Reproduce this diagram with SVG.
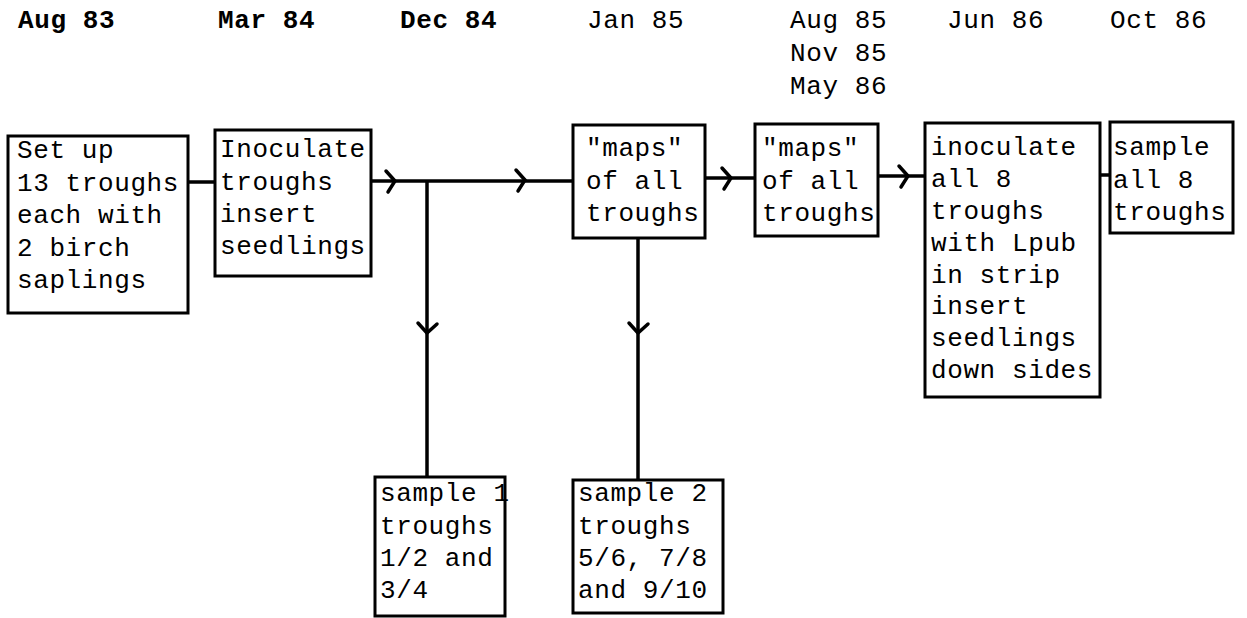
<svg xmlns="http://www.w3.org/2000/svg" width="1247" height="618" viewBox="0 0 1247 618">
<style>
text{font-family:"Liberation Mono","DejaVu Sans Mono",monospace;font-size:26px;letter-spacing:0.6px;fill:#000}
.b{font-weight:bold}
.box{fill:#fff;stroke:#000;stroke-width:3}
.ln{fill:none;stroke:#000;stroke-width:3.5}
.ch{fill:none;stroke:#000;stroke-width:3.5;stroke-linecap:round}
</style>
<rect width="1247" height="618" fill="#fff"/>
<g id="headers">
<text x="18" y="28" class="b">Aug 83</text>
<text x="218" y="28" class="b">Mar 84</text>
<text x="400" y="28" class="b">Dec 84</text>
<text x="587" y="28">Jan 85</text>
<text x="790" y="28">Aug 85</text>
<text x="790" y="61">Nov 85</text>
<text x="790" y="94">May 86</text>
<text x="947" y="28">Jun 86</text>
<text x="1110" y="28">Oct 86</text>
</g>
<g id="connectors">
<path class="ln" d="M188 182H215"/>
<path class="ln" d="M371 181H573"/>
<path class="ch" d="M386 171L395 181L388 192"/>
<path class="ch" d="M516 170L525 180L518 191"/>
<path class="ln" d="M427 181V477"/>
<path class="ch" d="M418 323L427 333L437 324"/>
<path class="ln" d="M638 238V480"/>
<path class="ch" d="M629 323L638 333L648 324"/>
<path class="ln" d="M705 178H755"/>
<path class="ch" d="M722 168L731 178L724 189"/>
<path class="ln" d="M878 176H925"/>
<path class="ch" d="M899 166L908 176L901 187"/>
<path class="ln" d="M1100 175H1110"/>
</g>
<g id="n1"><rect class="box" x="8" y="136" width="180" height="177"/>
<text x="17" y="158">Set up</text><text x="17" y="191">13 troughs</text><text x="17" y="223">each with</text><text x="17" y="256">2 birch</text><text x="17" y="288">saplings</text></g>
<g id="n2"><rect class="box" x="215" y="130" width="156" height="146"/>
<text x="220" y="157">Inoculate</text><text x="220" y="190">troughs</text><text x="220" y="222">insert</text><text x="220" y="254">seedlings</text></g>
<g id="n3"><rect class="box" x="573" y="125" width="132" height="113"/>
<text x="586" y="156">"maps"</text><text x="586" y="189">of all</text><text x="586" y="221">troughs</text></g>
<g id="n4"><rect class="box" x="755" y="124" width="123" height="112"/>
<text x="762" y="156">"maps"</text><text x="762" y="189">of all</text><text x="762" y="221">troughs</text></g>
<g id="n5"><rect class="box" x="925" y="123" width="175" height="274"/>
<text x="931" y="155">inoculate</text><text x="931" y="187">all 8</text><text x="931" y="219">troughs</text><text x="931" y="251">with Lpub</text><text x="931" y="283">in strip</text><text x="931" y="314">insert</text><text x="931" y="346">seedlings</text><text x="931" y="378">down sides</text></g>
<g id="n6"><rect class="box" x="1110" y="122" width="123" height="111"/>
<text x="1113" y="155">sample</text><text x="1113" y="188">all 8</text><text x="1113" y="220">troughs</text></g>
<g id="n7"><rect class="box" x="375" y="477" width="130" height="139"/>
<text x="380" y="501">sample 1</text><text x="380" y="534">troughs</text><text x="380" y="566">1/2 and</text><text x="380" y="598">3/4</text></g>
<g id="n8"><rect class="box" x="573" y="480" width="150" height="133"/>
<text x="578" y="501">sample 2</text><text x="578" y="534">troughs</text><text x="578" y="566">5/6, 7/8</text><text x="578" y="598">and 9/10</text></g>
</svg>
